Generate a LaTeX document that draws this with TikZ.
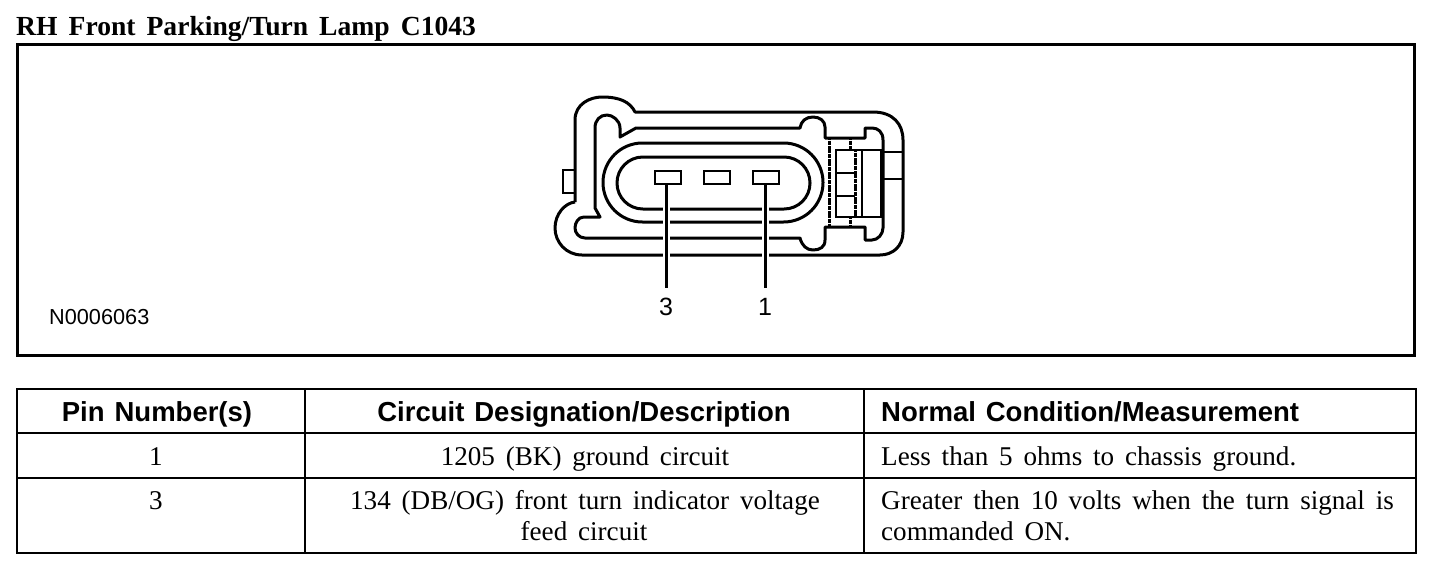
\documentclass[tikz,border=0pt]{standalone}
\usepackage{fontspec}
\setmainfont[WordSpace=1.6]{Liberation Serif}
\setsansfont[WordSpace=1.3]{Liberation Sans}
\tikzset{
  x=1pt,y=-1pt,
  frameline/.style={draw=black,line width=3pt},
  gridline/.style={draw=black,line width=2.4pt},
  shape line/.style={draw=black,line width=3pt,line join=round},
  thin shape/.style={draw=black,line width=2.8pt},
  dotted shape/.style={draw=black,line width=3pt,dash pattern=on 2.2pt off 0.4pt},
  pin/.style={draw=black,line width=2.8pt,rectangle,inner sep=0pt,minimum width=26pt,minimum height=13pt},
  leader/.style={draw=black,line width=3pt},
  halo/.style={draw=white,line width=7pt},
  ttl/.style={font=\fontsize{27.6}{30}\selectfont\bfseries,anchor=base west,inner sep=0pt},
  hdr/.style={font=\fontsize{27.5}{30}\sffamily\bfseries\selectfont,anchor=base,inner sep=0pt},
  cell/.style={font=\fontsize{27.1}{30}\selectfont,anchor=base,inner sep=0pt,align=center},
  cellw/.style={font=\fontsize{27.1}{30}\selectfont,anchor=base west,inner sep=0pt},
  callout/.style={font=\fontsize{25}{28}\sffamily\selectfont,anchor=base,inner sep=0pt},
  ref/.style={font=\fontsize{21.7}{24}\sffamily\selectfont,anchor=base west,inner sep=0pt},
}
\begin{document}
\begin{tikzpicture}
\useasboundingbox (0,0) rectangle (1456,578);
\fill[white] (0,0) rectangle (1456,578);
\node[ttl] (title) at (16,36) {RH Front Parking/Turn Lamp C1043};
\draw[frameline] (17,45) rectangle (1414,355);
% connector body
\draw[shape line] (575,202) -- (575,120) .. controls (575,104) and (590,97) .. (602,97)
  .. controls (620,97) and (630,102) .. (635,112) -- (873,112)
  .. controls (893,112) and (903,124) .. (903,140) -- (903,232)
  .. controls (903,246) and (893,255) .. (880,255) -- (582,255)
  .. controls (566,255) and (555,242) .. (555,228) .. controls (555,214) and (565,203) .. (575,202);
\draw[shape line] (620,137) -- (620,128) .. controls (620,120) and (612,115) .. (607,115)
  .. controls (600,115) and (595,120) .. (595,128) -- (595,208) -- (600,217) -- (584,217)
  .. controls (578,217) and (575,223) .. (575,228) .. controls (575,233) and (579,238) .. (585,238)
  -- (800,238) .. controls (802,246) and (807,250) .. (813,250) .. controls (820,250) and (825,247) .. (825,240)
  -- (825,227) -- (865,227) -- (865,240) -- (872,240)
  .. controls (878,240) and (883,234) .. (883,228) -- (883,140)
  .. controls (883,132) and (878,128) .. (872,128) -- (865,128) -- (865,138) -- (825,138) -- (825,127)
  .. controls (825,121) and (820,117) .. (813,117) .. controls (806,117) and (801,121) .. (800,128)
  -- (636,128) -- cycle;
\draw[thin shape] (575,170) -- (563,170) -- (563,193) -- (575,193);
\draw[shape line,rounded corners=39.4pt] (603,143) rectangle (823,222);
\draw[shape line,rounded corners=25.9pt] (617,157) rectangle (810,209);
% latch
\draw[dotted shape] (829,138) -- (829,227);
\draw[thin shape] (836,150) rectangle (881,217);
\draw[thin shape] (836,173) -- (855,173) (836,196) -- (855,196);
\draw[dotted shape] (855,150) -- (855,217);
\draw[thin shape] (862,150) -- (862,217);
\draw[dotted shape] (850,138) -- (850,150) (850,217) -- (850,227);
\draw[thin shape] (883,152) -- (903,152) (883,179) -- (903,179);
% pins and callouts
\node[pin] (p3) at (668,177.5) {};
\node[pin] (p2) at (717,177.5) {};
\node[pin] (p1) at (766,177.5) {};
\node[callout] (l3) at (666,315) {3};
\node[callout] (l1) at (765,315) {1};
\coordinate (e3) at (666,288);
\coordinate (e1) at (765,288);
\draw[halo] (666,200) -- (666,270) (765,200) -- (765,270);
\draw[leader] (p3.south -| e3) -- (e3);
\draw[leader] (p1.south -| e1) -- (e1);
\node[ref] (code) at (49,324) {N0006063};
% table
\draw[gridline] (17,389) rectangle (1416,553);
\draw[gridline] (17,433) -- (1416,433) (17,478) -- (1416,478);
\draw[gridline] (305,389) -- (305,553) (864,389) -- (864,553);
\node[hdr] (h1) at (157,421) {Pin Number(s)};
\node[hdr] (h2) at (584,421) {Circuit Designation/Description};
\node[hdr,anchor=base west] (h3) at (881,421) {Normal Condition/Measurement};
\node[cell] (a1) at (156,465) {1};
\node[cell] (b1) at (585,465) {1205 (BK) ground circuit};
\node[cellw] (c1) at (881,465) {Less than 5 ohms to chassis ground.};
\node[cell] (a2) at (156,509) {3};
\node[cell] (b2) at (585,509) {134 (DB/OG) front turn indicator voltage};
\node[cell] (b3) at (584,540) {feed circuit};
\node[cellw] (c2) at (881,509) {Greater then 10 volts when the turn signal is};
\node[cellw] (c3) at (881,540) {commanded ON.};
\end{tikzpicture}
\end{document}
